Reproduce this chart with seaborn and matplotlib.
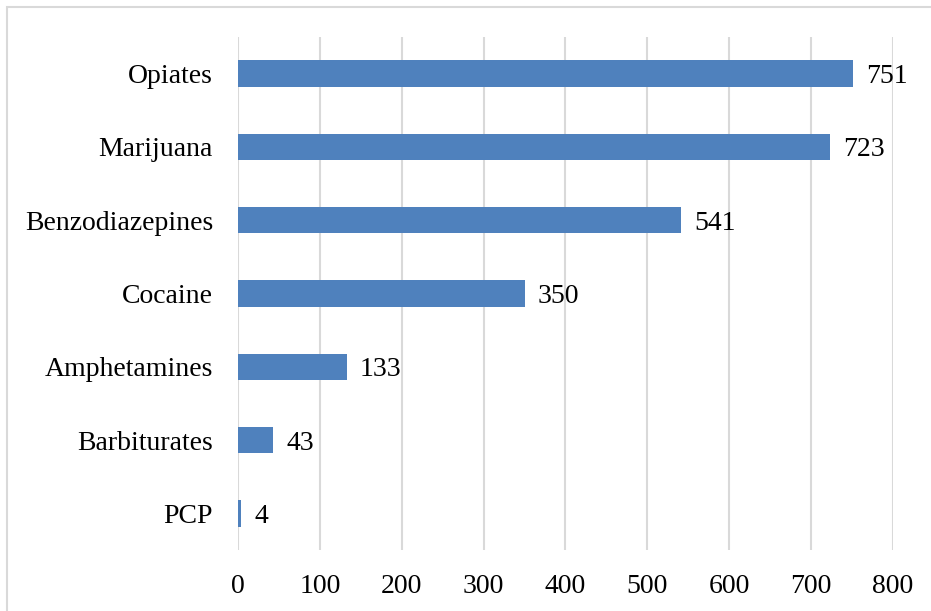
import matplotlib
matplotlib.use("Agg")
import matplotlib.pyplot as plt
import seaborn as sns
import pandas as pd
from matplotlib.patches import Rectangle

# data
drugs = ["Opiates", "Marijuana", "Benzodiazepines", "Cocaine",
         "Amphetamines", "Barbiturates", "PCP"]
counts = [751, 723, 541, 350, 133, 43, 4]
x_ticks = [0, 100, 200, 300, 400, 500, 600, 700, 800]

df = pd.DataFrame({"drug": drugs, "count": counts})

sns.set_style("white")
plt.rcParams["font.family"] = ["Liberation Serif", "DejaVu Serif"]
plt.rcParams["text.color"] = "black"
plt.rcParams["xtick.color"] = "black"
plt.rcParams["ytick.color"] = "black"

fig = plt.figure(figsize=(9.31, 6.11), dpi=100)
ax = fig.add_axes([0.2556, 0.0998, 0.7036, 0.8396])

sns.barplot(data=df, x="count", y="drug", color="#4F81BD", saturation=1,
            width=0.36, linewidth=0, ax=ax)

for i, v in enumerate(counts):
    ax.text(v + 16, i, str(v), va="center_baseline", ha="left", fontsize=20)

ax.set_xlim(0, 800)
ax.set_ylim(6.5, -0.5)
ax.set_xticks(x_ticks)
ax.xaxis.grid(True, color="#D9D9D9", linewidth=1.5)
ax.set_axisbelow(True)
ax.tick_params(axis="both", labelsize=20, length=0)
ax.tick_params(axis="y", pad=18)
ax.tick_params(axis="x", pad=17)
ax.set_xlabel("")
ax.set_ylabel("")
for s in ax.spines.values():
    s.set_visible(False)

# outer chart border (cut off on right/bottom)
fig.patches.append(Rectangle((7 / 931, -0.1), 1.2, 1 - 7 / 611 + 0.1,
                             transform=fig.transFigure, fill=False,
                             edgecolor="#D9D9D9", linewidth=1.5))

fig.savefig("out.png", dpi=100)
